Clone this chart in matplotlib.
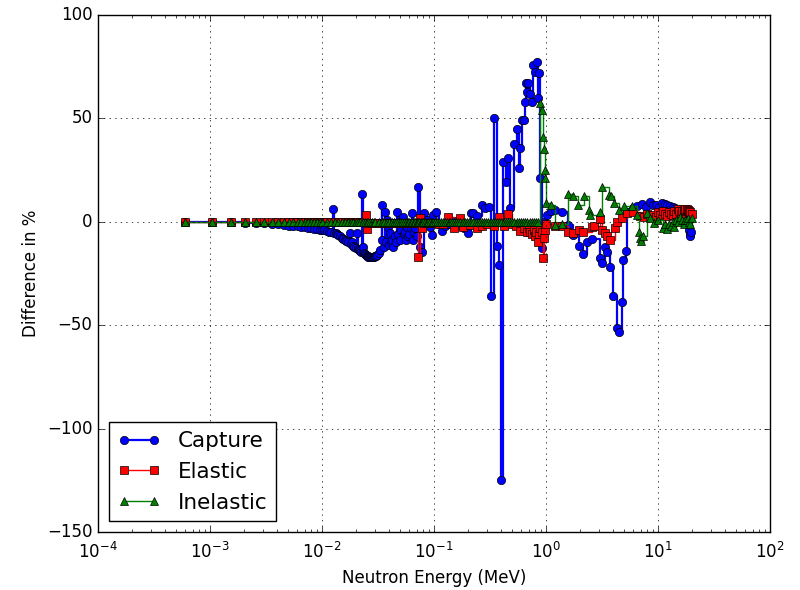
import matplotlib
matplotlib.use("Agg")
import matplotlib.pyplot as plt

# ---------------- data ----------------
cap_E = [0.0006, 0.00105, 0.00155, 0.00205, 0.00255, 0.00305, 0.00355, 0.00405, 0.00455, 0.00505,
         0.00555, 0.00605, 0.00655, 0.00705, 0.00755, 0.00805, 0.00855, 0.00905, 0.00955, 0.01005,
         0.0105, 0.011, 0.0115, 0.012, 0.01254, 0.0128, 0.0132, 0.0136, 0.014, 0.0145,
         0.015, 0.0155, 0.016, 0.0165, 0.017, 0.01778, 0.018, 0.01853, 0.019, 0.0195,
         0.020, 0.02054, 0.0208, 0.0213, 0.0218, 0.0223, 0.02276, 0.0230, 0.02323, 0.0236,
         0.024, 0.0245, 0.025, 0.0255, 0.026, 0.0265, 0.027, 0.0275, 0.028, 0.0285,
         0.029, 0.0295, 0.030, 0.0305, 0.031, 0.032, 0.033, 0.0343, 0.0345, 0.0355,
         0.0365, 0.0372, 0.0380, 0.0388, 0.0395, 0.0405, 0.0412, 0.042, 0.043, 0.0445,
         0.0455, 0.0468, 0.048, 0.0497, 0.0508, 0.0518, 0.0529, 0.054, 0.055, 0.0562,
         0.0574, 0.0587, 0.060, 0.0618, 0.0636, 0.0649, 0.0665, 0.068, 0.070, 0.0720,
         0.0750, 0.0782, 0.0815, 0.0866, 0.0921, 0.0960, 0.0980, 0.105, 0.110, 0.1179,
         0.125, 0.135, 0.150, 0.170, 0.185, 0.2014, 0.212, 0.2228, 0.2420, 0.2683,
         0.2853, 0.3098, 0.3228, 0.3436, 0.3652, 0.3802, 0.3963, 0.4130, 0.4393, 0.4580,
         0.4773, 0.5180, 0.5510, 0.5743, 0.5860, 0.6110, 0.630, 0.6494, 0.6627, 0.6761,
         0.6900, 0.7197, 0.7499, 0.7656, 0.7980, 0.8318, 0.850, 0.866, 0.8835, 0.9208,
         0.9300, 0.950, 1.0208, 1.10, 1.202, 1.389, 1.572, 1.742, 1.971, 2.138,
         2.323, 2.576, 3.035, 3.162, 3.363, 3.508, 3.728, 3.963, 4.305, 4.488,
         4.772, 4.870, 5.176, 5.285, 5.98, 6.5, 7.2, 7.8, 8.48, 9.0,
         9.5, 10.2, 10.87, 11.5, 12.03, 12.8, 13.5, 14.2, 15.0, 15.8,
         16.5, 17.0, 17.5, 18.0, 18.5, 19.0, 19.3, 19.5, 19.8]
cap_V = [0, 0, -0.2, -0.4, -0.6, -0.8, -1.0, -1.2, -1.5, -1.8,
         -2.0, -2.2, -2.5, -2.7, -3.0, -3.2, -3.4, -3.6, -3.8, -4.0,
         -4.2, -4.5, -4.8, -5.0, 6.0, -5.3, -5.6, -6.0, -6.4, -7.0,
         -7.6, -8.3, -8.8, -9.3, -9.8, -5.3, -10.5, -10.0, -11.5, -12.2,
         -12.8, -5.3, -13.3, -13.8, -14.2, -14.6, 13.5, -14.8, -12.0, -15.3,
         -15.7, -16.1, -16.4, -16.6, -16.8, -16.9, -17.0, -17.0, -17.0, -16.9,
         -16.8, -16.7, -16.5, -16.3, -16.0, -15.0, -13.5, 8.2, -8.7, -12.0,
         4.8, -10.0, 1.0, -2.4, -11.0, -5.3, -10.0, -9.0, -12.0, -7.0,
         -10.0, 4.8, -6.0, -8.7, -4.0, 1.0, 2.4, -6.0, -5.0, -9.0,
         -2.4, -7.0, -6.0, -3.0, 4.3, -8.7, -5.0, -3.0, -7.0, 17.0,
         -12.0, -14.5, 4.3, 1.0, -2.4, -6.3, 3.4, 4.8, -1.0, -4.4,
         -2.0, -1.0, 0.5, -1.5, -3.0, -5.3, 4.3, 4.3, 3.0, 8.2,
         6.8, 7.3, -35.8, 50.4, -11.5, -20.8, -124.8, 29.0, 19.0, 31.0,
         6.8, 37.7, 45.0, 26.0, 35.8, 49.0, 49.0, 58.0, 67.0, 63.0,
         67.0, 62.0, 58.0, 76.0, 72.5, 77.5, 60.0, 72.0, 21.0, -5.0,
         -12.5, 0.0, 3.4, 5.0, 5.8, 4.8, -1.4, -6.3, -11.6, -15.5,
         -9.7, -8.2, -17.5, -19.8, -12.1, -14.5, -21.8, -35.8, -51.3, -53.5,
         -38.7, -18.4, -14.0, 4.8, 6.8, 7.5, 8.5, 7.0, 9.7, 8.0,
         8.0, 7.0, 9.2, 8.5, 8.2, 7.5, 7.0, 6.5, 6.0, 5.5,
         5.0, 4.0, 3.0, 2.0, 0.0, -3.9, -6.0, -7.1, -5.0]

el_E = [0.0006, 0.00105, 0.00155, 0.00205, 0.00255, 0.00305, 0.00355, 0.00405, 0.00455, 0.00505,
        0.00555, 0.00605, 0.00655, 0.00705, 0.00755, 0.00805, 0.00855, 0.00905, 0.00955, 0.01005,
        0.011, 0.012, 0.013, 0.014, 0.015, 0.016, 0.017, 0.018, 0.019, 0.020,
        0.021, 0.022, 0.023, 0.0245, 0.0252, 0.026, 0.028, 0.030, 0.032, 0.034,
        0.036, 0.038, 0.040, 0.042, 0.044, 0.046, 0.048, 0.050, 0.052, 0.054,
        0.056, 0.058, 0.060, 0.062, 0.064, 0.066, 0.068, 0.070, 0.0720, 0.0750,
        0.078, 0.082, 0.086, 0.090, 0.095, 0.100, 0.110, 0.120, 0.1334, 0.151,
        0.1707, 0.1816, 0.21, 0.24, 0.27, 0.30, 0.34, 0.3802, 0.42, 0.4580,
        0.50, 0.54, 0.5860, 0.63, 0.6761, 0.70, 0.72, 0.75, 0.78, 0.80,
        0.82, 0.8487, 0.866, 0.8835, 0.9208, 0.9397, 0.9590, 0.9786, 1.0, 1.20,
        1.389, 1.572, 1.742, 1.971, 2.138, 2.576, 2.7, 3.035, 3.162, 3.363,
        3.508, 3.728, 4.1, 4.305, 4.772, 5.285, 5.98, 6.9, 7.5, 8.0,
        8.5, 9.0, 9.5, 10.0, 10.5, 11.0, 11.5, 12.0, 12.5, 13.0,
        13.5, 14.0, 14.5, 15.0, 15.5, 16.0, 16.5, 17.0, 17.5, 18.0,
        18.5, 19.0, 19.5, 20.0]
el_V = [-0.3, -0.3, -0.3, -0.3, -0.3, -0.3, -0.3, -0.3, -0.3, -0.3,
        -0.3, -0.3, -0.3, -0.3, -0.3, -0.3, -0.3, -0.3, -0.3, -0.3,
        -0.3, -0.3, -0.3, -0.3, -0.3, -0.3, -0.3, -0.3, -0.3, -0.3,
        -0.3, -0.3, -0.3, 3.5, -3.5, -0.5, -0.5, -0.5, -0.5, -0.5,
        -0.5, -0.5, -0.5, -0.5, -0.5, -0.5, -0.5, -0.5, -0.5, -0.5,
        -0.5, -0.5, -0.5, -0.5, -0.5, -0.5, -0.5, -0.5, -17.0, 2.0,
        -2.9, -0.5, -0.5, -0.5, -0.5, -0.5, -1.0, -1.0, 2.4, -3.0,
        2.0, -2.4, -1.5, -3.0, -2.0, -1.0, -2.0, 2.4, -2.0, 3.9,
        -1.0, -2.0, -4.4, -3.0, -4.8, -3.0, -5.0, -6.0, -4.0, -7.0,
        -5.0, -10.0, -6.0, -3.0, -5.0, -17.5, -7.7, -3.9, -1.0, -1.9,
        -2.0, -4.8, -5.3, -3.9, -4.8, -2.4, -2.0, 1.4, -3.9, -5.3,
        -7.1, -8.7, -3.0, 0.0, 1.9, 4.3, 4.8, 3.0, 2.5, 4.0,
        3.0, 3.5, 2.5, 4.5, 3.5, 5.0, 4.0, 3.0, 4.5, 4.0,
        3.5, 5.0, 4.0, 6.0, 5.0, 4.0, 5.0, 5.5, 6.0, 6.0,
        5.5, 5.0, 4.5, 4.0]

inel_E = [0.0006, 0.00105, 0.00155, 0.00205, 0.00255, 0.00305, 0.00355, 0.00405, 0.00455, 0.00505,
          0.00555, 0.00605, 0.00655, 0.00705, 0.00755, 0.00805, 0.00855, 0.00905, 0.00955, 0.01005,
          0.011, 0.012, 0.013, 0.014, 0.015, 0.016, 0.017, 0.018, 0.019, 0.020,
          0.021, 0.022, 0.023, 0.024, 0.025, 0.026, 0.027, 0.028, 0.029, 0.030,
          0.032, 0.034, 0.036, 0.038, 0.040, 0.042, 0.044, 0.046, 0.048, 0.050,
          0.052, 0.054, 0.056, 0.058, 0.060, 0.062, 0.064, 0.066, 0.068, 0.070,
          0.072, 0.074, 0.076, 0.078, 0.080, 0.083, 0.086, 0.089, 0.092, 0.095,
          0.098, 0.102, 0.106, 0.110, 0.115, 0.120, 0.125, 0.130, 0.135, 0.140,
          0.146, 0.152, 0.158, 0.165, 0.172, 0.180, 0.188, 0.196, 0.205, 0.215,
          0.225, 0.235, 0.245, 0.256, 0.268, 0.280, 0.293, 0.306, 0.320, 0.335,
          0.350, 0.366, 0.383, 0.400, 0.418, 0.437, 0.457, 0.478, 0.500, 0.523,
          0.547, 0.572, 0.598, 0.625, 0.653, 0.683, 0.714, 0.746, 0.780, 0.815,
          0.850, 0.8835, 0.9208, 0.9397, 0.959, 0.9786, 0.985, 1.0, 1.10, 1.202,
          1.389, 1.572, 1.742, 1.95, 2.17, 2.41, 2.49, 3.04, 3.19, 3.66,
          3.79, 4.06, 4.51, 5.0, 5.9, 6.5, 6.7, 6.9, 7.0, 7.3,
          7.9, 8.5, 9.3, 10.0, 11.0, 11.5, 12.0, 12.5, 13.0, 13.5,
          14.0, 14.5, 15.0, 15.7, 16.5, 17.0, 17.5, 18.1, 18.6, 19.0,
          19.5, 20.0]
inel_V = [0, 0, 0, 0, 0, 0, 0, 0, 0, 0,
          0, 0, 0, 0, 0, 0, 0, 0, 0, 0,
          0, 0, 0, 0, 0, 0, 0, 0, 0, 0,
          0, 0, 0, 0, 0, 0, 0, 0, 0, 0,
          0, 0, 0, 0, 0, 0, 0, 0, 0, 0,
          0, 0, 0, 0, 0, 0, 0, 0, 0, 0,
          0, 0, 0, 0, 0, 0, 0, 0, 0, 0,
          0, 0, 0, 0, 0, 0, 0, 0, 0, 0,
          0, 0, 0, 0, 0, 0, 0, 0, 0, 0,
          0, 0, 0, 0, 0, 0, 0, 0, 0, 0,
          0, 0, 0, 0, 0, 0, 0, 0, 0, 0,
          0, 0, 0, 0, 0, 0, 0, 0, 0, 0,
          0, 57.5, 54.0, 41.0, 35.0, 25.0, 21.0, 9.0, 8.0, -1.4,
          -1.0, 13.4, 12.3, 8.2, 12.3, 5.8, 3.4, 4.5, 16.8, 13.1,
          12.3, 9.0, 5.8, 7.4, 7.4, 3.4, -4.7, -7.9, -9.5, -7.1,
          4.2, 2.0, -0.6, 1.0, -3.0, -1.0, -3.5, -1.0, -2.0, 0.0,
          -2.5, 1.0, 0.0, 2.4, 1.0, -1.0, 1.0, 1.0, 2.0, 0.0,
          -1.0, 2.0]

series_labels = ["Capture", "Elastic", "Inelastic"]
y_ticks = [-150, -100, -50, 0, 50, 100]

# ---------------- figure ----------------
plt.style.use("classic")
plt.rcParams["mathtext.fontset"] = "dejavusans"
plt.rcParams["font.family"] = ["DejaVu Sans"]

fig = plt.figure(figsize=(8.0, 5.9), dpi=100, facecolor="white")
ax = fig.add_axes([0.1225, 0.0983, 0.84, 0.8763])
ax.set_facecolor("white")

ax.plot(cap_E, cap_V, color="#0000ff", lw=1.6, marker="o", ms=6, mec="k", mew=0.5,
        drawstyle="steps-post", label=series_labels[0])
ax.plot(el_E, el_V, color="#ff0000", lw=1.0, marker="s", ms=6, mec="k", mew=0.5,
        drawstyle="steps-post", label=series_labels[1])
ax.plot(inel_E, inel_V, color="#008000", lw=1.0, marker="^", ms=6, mec="k", mew=0.5,
        drawstyle="steps-post", label=series_labels[2])

ax.set_xscale("log")
ax.set_xlim(1e-4, 1e2)
ax.set_ylim(-150, 100)
ax.set_yticks(y_ticks)
ax.grid(True, color="k", linestyle=":", linewidth=0.5)
ax.tick_params(labelsize=12)
ax.tick_params(axis="x", pad=7)
ax.set_xlabel("Neutron Energy (MeV)", fontsize=12)
ax.set_ylabel("Difference in %", fontsize=12)

ax.legend(loc="lower left", fontsize=15.5, numpoints=2, fancybox=False)

fig.savefig("out.png", dpi=100, facecolor="white")
